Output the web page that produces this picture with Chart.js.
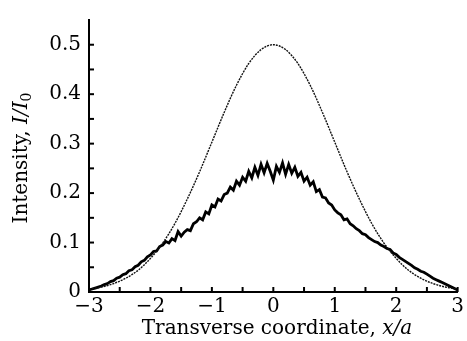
<!DOCTYPE html>
<html>
<head>
<meta charset="utf-8">
<script src="https://cdn.jsdelivr.net/npm/chart.js@4"></script>
<style>
html, body { margin: 0; background: #fff; }
#wrap { width: 467px; height: 341px; }
</style>
</head>
<body>
<div id="wrap"><canvas id="canvas"></canvas></div>
<script>
// smooth (theory) curve, every 0.2
var theoryX = [-3, -2.8, -2.6, -2.4, -2.2, -2, -1.8, -1.6, -1.4, -1.2, -1, -0.8, -0.6, -0.4, -0.2, 0,
               0.2, 0.4, 0.6, 0.8, 1, 1.2, 1.4, 1.6, 1.8, 2, 2.2, 2.4, 2.6, 2.8, 3];
var theoryY = [0.006, 0.010, 0.017, 0.028, 0.044, 0.068, 0.099, 0.139, 0.188, 0.243, 0.303, 0.363, 0.418, 0.462, 0.490, 0.500,
               0.490, 0.462, 0.418, 0.363, 0.303, 0.243, 0.188, 0.139, 0.099, 0.068, 0.044, 0.028, 0.017, 0.010, 0.006];

// noisy (measured) curve, every 0.05
var measuredX = [-3, -2.95, -2.9, -2.85, -2.8, -2.75, -2.7, -2.65, -2.6, -2.55, -2.5, -2.45, -2.4, -2.35, -2.3,
                 -2.25, -2.2, -2.15, -2.1, -2.05, -2, -1.95, -1.9, -1.85, -1.8, -1.75, -1.7, -1.65, -1.6, -1.55,
                 -1.5, -1.45, -1.4, -1.35, -1.3, -1.25, -1.2, -1.15, -1.1, -1.05, -1, -0.95, -0.9, -0.85, -0.8,
                 -0.75, -0.7, -0.65, -0.6, -0.55, -0.5, -0.45, -0.4, -0.35, -0.3, -0.25, -0.2, -0.15, -0.1, -0.05,
                 0, 0.05, 0.1, 0.15, 0.2, 0.25, 0.3, 0.35, 0.4, 0.45, 0.5, 0.55, 0.6, 0.65, 0.7,
                 0.75, 0.8, 0.85, 0.9, 0.95, 1, 1.05, 1.1, 1.15, 1.2, 1.25, 1.3, 1.35, 1.4, 1.45,
                 1.5, 1.55, 1.6, 1.65, 1.7, 1.75, 1.8, 1.85, 1.9, 1.95, 2, 2.05, 2.1, 2.15, 2.2,
                 2.25, 2.3, 2.35, 2.4, 2.45, 2.5, 2.55, 2.6, 2.65, 2.7, 2.75, 2.8, 2.85, 2.9, 2.95, 3];
var measuredY = [0.004, 0.006, 0.008, 0.010, 0.012, 0.015, 0.017, 0.021, 0.023, 0.028, 0.030, 0.035, 0.037, 0.043, 0.045,
                 0.051, 0.054, 0.061, 0.064, 0.071, 0.075, 0.082, 0.083, 0.092, 0.095, 0.102, 0.099, 0.108, 0.104, 0.122,
                 0.113, 0.121, 0.126, 0.124, 0.138, 0.142, 0.150, 0.146, 0.162, 0.158, 0.176, 0.172, 0.188, 0.184, 0.197,
                 0.200, 0.212, 0.206, 0.224, 0.216, 0.232, 0.224, 0.244, 0.231, 0.252, 0.236, 0.258, 0.241, 0.260, 0.244,
                 0.226, 0.254, 0.242, 0.261, 0.238, 0.258, 0.240, 0.252, 0.234, 0.242, 0.224, 0.232, 0.216, 0.223, 0.203,
                 0.207, 0.192, 0.190, 0.180, 0.176, 0.166, 0.160, 0.156, 0.146, 0.148, 0.138, 0.134, 0.128, 0.124, 0.118,
                 0.116, 0.110, 0.106, 0.102, 0.100, 0.095, 0.092, 0.088, 0.086, 0.079, 0.076, 0.070, 0.066, 0.062, 0.058,
                 0.054, 0.049, 0.046, 0.042, 0.040, 0.036, 0.032, 0.028, 0.025, 0.022, 0.019, 0.016, 0.013, 0.010, 0.007, 0.004];

var xLabels = ['\u22123', '\u22122', '\u22121', '0', '1', '2', '3'];
var yLabels = ['0', '0.1', '0.2', '0.3', '0.4', '0.5'];

var serif = "'DejaVu Serif', 'Liberation Serif', serif";

function pts(xs, ys) {
    return xs.map(function (x, i) { return { x: x, y: ys[i] }; });
}

// ticks point inward, every minor step
var inwardTicks = {
    id: 'inwardTicks',
    afterDraw: function (chart) {
        var ctx = chart.ctx, a = chart.chartArea;
        var sx = chart.scales.x, sy = chart.scales.y;
        ctx.save();
        ctx.strokeStyle = '#000';
        ctx.lineWidth = 2;
        sx.ticks.forEach(function (t) {
            var p = sx.getPixelForValue(t.value);
            ctx.beginPath(); ctx.moveTo(p, a.bottom); ctx.lineTo(p, a.bottom - 5); ctx.stroke();
        });
        sy.ticks.forEach(function (t) {
            if (t.value > 0.501) return;
            var p = sy.getPixelForValue(t.value);
            ctx.beginPath(); ctx.moveTo(a.left, p); ctx.lineTo(a.left + 5, p); ctx.stroke();
        });
        ctx.restore();
    }
};

function drawParts(ctx, parts, cx, cy) {
    var total = 0;
    parts.forEach(function (p) { ctx.font = p.font; total += ctx.measureText(p.text).width; });
    var x = cx - total / 2;
    parts.forEach(function (p) {
        ctx.font = p.font;
        ctx.fillText(p.text, x, cy + (p.dy || 0));
        x += ctx.measureText(p.text).width;
    });
}

var axisTitles = {
    id: 'axisTitles',
    afterDraw: function (chart) {
        var ctx = chart.ctx;
        ctx.save();
        ctx.fillStyle = '#000';
        ctx.textBaseline = 'alphabetic';
        ctx.textAlign = 'left';
        drawParts(ctx, [
            { text: 'Transverse coordinate, ', font: '20px ' + serif },
            { text: 'x/a', font: 'italic 20px ' + serif }
        ], 277, 334);
        ctx.translate(27, 158);
        ctx.rotate(-Math.PI / 2);
        drawParts(ctx, [
            { text: 'Intensity, ', font: '20px ' + serif },
            { text: 'I/I', font: 'italic 20px ' + serif },
            { text: '0', font: '14px ' + serif, dy: 4 }
        ], 0, 0);
        ctx.restore();
    }
};

const ctx = document.getElementById('canvas');
const myChart = new Chart(ctx, {
    type: 'line',
    data: {
        datasets: [{
            label: 'theory',
            data: pts(theoryX, theoryY),
            borderColor: '#111',
            borderWidth: 1.4,
            borderDash: [2, 1],
            pointRadius: 0,
            cubicInterpolationMode: 'monotone'
        }, {
            label: 'measured',
            data: pts(measuredX, measuredY),
            borderColor: '#000',
            borderWidth: 2.8,
            pointRadius: 0,
            tension: 0
        }]
    },
    options: {
        responsive: true,
        maintainAspectRatio: false,
        animation: false,
        layout: { padding: { top: 16, right: 8, left: 0, bottom: 0 } },
        plugins: { legend: { display: false }, tooltip: { enabled: false } },
        scales: {
            x: {
                type: 'linear',
                min: -3,
                max: 3,
                grid: { display: false, drawTicks: false },
                border: { display: true, color: '#000', width: 2 },
                ticks: {
                    stepSize: 0.5,
                    padding: 3,
                    autoSkip: false,
                    maxRotation: 0,
                    color: '#000',
                    font: { family: serif, size: 20 },
                    callback: function (v) {
                        if (Math.abs(v - Math.round(v)) > 1e-6) return '';
                        return xLabels[Math.round(v) + 3];
                    }
                },
                afterFit: function (scale) { scale.height = 49; }
            },
            y: {
                min: 0,
                max: 0.55,
                grid: { display: false, drawTicks: false },
                border: { display: true, color: '#000', width: 2 },
                ticks: {
                    stepSize: 0.05,
                    padding: 8,
                    autoSkip: false,
                    color: '#000',
                    font: { family: serif, size: 20 },
                    callback: function (v) {
                        var k = Math.round(v * 10);
                        if (Math.abs(v * 10 - k) > 1e-6 || k > 5) return '';
                        return yLabels[k];
                    }
                },
                afterFit: function (scale) { scale.width = 89; }
            }
        }
    },
    plugins: [inwardTicks, axisTitles]
});
</script>
</body>
</html>
